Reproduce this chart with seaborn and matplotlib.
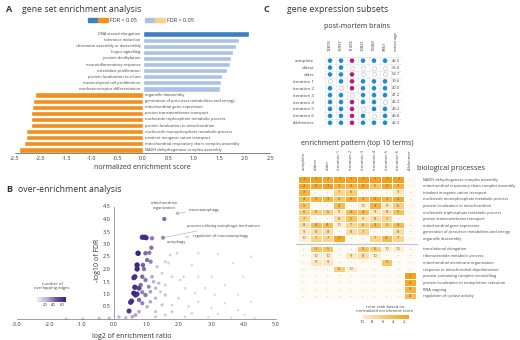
import matplotlib
matplotlib.use('Agg')
import matplotlib.pyplot as plt
import seaborn as sns
import numpy as np
import pandas as pd
from matplotlib.patches import Patch
from matplotlib.legend_handler import HandlerTuple
from matplotlib.lines import Line2D
from matplotlib.cm import ScalarMappable
from matplotlib.colors import Normalize

sns.set_style('white')
plt.rcParams['font.family'] = ['Open Sans', 'DejaVu Sans']
plt.rcParams['text.color'] = '#333333'
plt.rcParams['axes.labelcolor'] = '#333333'
plt.rcParams['xtick.color'] = '#333333'
plt.rcParams['ytick.color'] = '#333333'

# ---- A: gene set enrichment ----
terms_up = ['DNA strand elongation', 'tolerance induction', 'chromatin assembly or diassembly',
            'hippo signalling', 'protein dealkylation', 'neuroinflammatory response',
            'osteoblast proliferation', 'protein localization to cilium',
            'mesenchymal cell proliferation', 'mechanoreceptor differentiation']
nes_up = [2.08, 1.88, 1.83, 1.77, 1.72, 1.70, 1.65, 1.55, 1.54, 1.51]
sig_up = [True, False, False, False, False, False, False, False, False, False]
terms_down = ['organelle diassembly', 'generation of precursor metabolites and energy',
              'mitochondrial gene expression', 'proton transmembrane transport',
              'nucleoside triphosphate metabolic process', 'protein localization to mitochondrion',
              'nucleoside monophosphate metabolic process', 'trivalent inorganic cation transport',
              'mitochondrial respiratory chain complex assembly', 'NADH dehydrogenase complex assembly']
nes_down = [-2.10, -2.15, -2.17, -2.18, -2.18, -2.18, -2.28, -2.28, -2.33, -2.42]
sig_down = [True] * 10

# ---- B: over-enrichment scatter (log2 ratio, -log10 FDR, overlapping edges) ----
ora_x = [0.87, 0.94, 0.99, 0.74, 0.71, 0.71, 0.64, 0.61, 0.64, 0.61, 0.66, 0.54, 0.51, 0.46, 0.77, 0.71,
         0.97, 1.09, 1.02, 0.89, 0.92, 1.17, 1.15, 1.13, 0.87, 0.97, 0.82, 0.87, 0.77, 0.97, 1.07, 0.87,
         1.17, 1.22, 1.12, 1.28, 1.38, 1.12, 1.28, 1.48, 1.58, 1.02, 0.77, 0.66, 1.28, 0.56, 0.36, -0.15,
         -0.46, -0.97, -1.48, 0.15,
         1.73, 1.94, 1.58, 1.68, 1.79, 2.04, 2.14, 2.40, 2.60, 3.21, 3.67, 4.23, 3.98, 3.01, 2.60, 3.42,
         2.81, 2.19, 2.50, 3.11, 3.83, 1.99, 2.60, 3.42, 4.23, 1.79, 2.30, 3.01, 3.83, 1.79, 2.40, 3.21,
         4.03, 1.58, 2.19, 2.91, 3.62, 4.34, 1.28, 1.43, 1.58, 1.48, 1.33,
         1.55, 1.96, 1.51, 2.26]
ora_y = [3.27, 3.27, 3.25, 2.63, 2.16, 2.00, 1.69, 1.65, 1.27, 1.03, 0.96, 0.72, 0.67, 0.32, 1.23, 1.00,
         2.63, 2.65, 2.36, 2.16, 2.00, 3.23, 2.85, 2.29, 1.69, 1.56, 1.36, 1.07, 0.76, 0.96, 1.29, 0.63,
         1.69, 1.49, 1.09, 1.23, 1.43, 0.69, 0.83, 0.56, 0.96, 0.49, 0.29, 0.16, 0.29, 0.09, 0.05, 0.03,
         0.03, 0.01, 0.01, 0.08,
         2.56, 2.63, 2.29, 2.23, 1.69, 1.56, 1.69, 2.16, 2.63, 2.59, 2.23, 2.49, 1.69, 1.69, 1.69, 1.36,
         1.23, 1.23, 1.03, 0.96, 0.96, 0.83, 0.69, 0.63, 0.69, 0.56, 0.49, 0.43, 0.36, 0.29, 0.23, 0.19,
         0.16, 0.16, 0.09, 0.07, 0.05, 0.04, 0.09, 1.09, 1.36, 1.83, 2.09,
         4.00, 4.23, 3.25, 3.28]
ora_edges = [62, 65, 60, 68, 66, 64, 62, 60, 64, 66, 62, 60, 62, 58, 55, 58,
             42, 38, 40, 44, 40, 38, 40, 36, 42, 38, 40, 36, 42, 38, 34, 36,
             26, 24, 28, 22, 20, 26, 22, 18, 18, 24, 26, 28, 18, 26, 22, 20,
             18, 16, 14, 22,
             12, 12, 14, 12, 12, 10, 10, 9, 9, 8, 8, 7, 7, 8, 9, 8,
             9, 10, 9, 8, 7, 12, 9, 8, 7, 12, 10, 8, 7, 14, 10, 8,
             7, 14, 10, 8, 7, 6, 16, 16, 14, 14, 18,
             40, 22, 34, 12]

# ---- C: dot matrix ----
brains = ['12876', '15997', '11496', '10821', '14380', '9861']
brain_group = ['control', 'control', 'AD', 'control', 'control', 'control']
subsets = ['complete', 'oldest', 'older', 'iteration 1', 'iteration 2', 'iteration 3',
           'iteration 4', 'iteration 5', 'iteration 6', 'Alzheimer']
included = [[1, 1, 1, 1, 1, 1],
            [1, 1, 0, 0, 0, 0],
            [1, 1, 1, 0, 0, 0],
            [0, 1, 1, 1, 1, 1],
            [1, 0, 1, 1, 1, 1],
            [1, 1, 0, 1, 1, 1],
            [1, 1, 1, 1, 1, 0],
            [1, 1, 1, 0, 1, 1],
            [1, 1, 1, 1, 0, 1],
            [1, 1, 1, 1, 1, 1]]
mean_age = [42.5, 56.0, 53.7, 39.6, 40.0, 41.2, 46.2, 43.2, 44.8, 42.5]

# ---- C: enrichment pattern ----
N = np.nan
top_terms = ['NADH dehydrogenase complex assembly', 'mitochondrial respiratory chain complex assembly',
             'trivalent inorganic cation transport', 'nucleoside monophosphate metabolic process',
             'protein localization to mitochondrion', 'nucleoside triphosphate metabolic process',
             'proton transmembrane transport', 'mitochondrial gene expression',
             'generation of precursor metabolites and energy', 'organelle diassembly']
top_ranks = [[1, 1, 2, 1, 1, 1, 1, 1, 1, N],
             [2, 2, 1, 3, 3, 2, 5, 2, 3, N],
             [3, N, N, 7, 6, N, N, N, 9, N],
             [4, 3, 3, 5, 2, 3, 2, 3, 2, N],
             [5, N, N, 4, N, 10, 3, 9, 6, N],
             [6, 6, 6, 9, 4, 4, 9, 8, 5, N],
             [7, N, N, 8, 5, 9, 8, 7, N, N],
             [8, 4, 4, 10, 7, 6, 4, 6, 4, N],
             [9, 8, 8, N, 8, 7, N, N, 8, N],
             [10, 7, 7, 2, N, N, 7, 4, 7, N]]
other_terms = ['translational elongation', 'ribonucleotide metabolic process',
               'mitochondrial membrane organization', 'response to mitochondrial depolarisation',
               'protein-containing complex remodelling', 'protein localization to endoplasmic reticulum',
               'RNA capping', 'regulation of cyclase activity']
other_ranks = [[N, 5, 5, N, N, 5, 6, 10, 10, N],
               [N, 10, 10, N, 9, 8, 10, N, N, N],
               [N, 9, 9, N, N, N, N, 5, N, N],
               [N, N, N, 6, 10, N, N, N, N, N],
               [N, N, N, N, N, N, N, N, N, 1],
               [N, N, N, N, N, N, N, N, N, 2],
               [N, N, N, N, N, N, N, N, N, 3],
               [N, N, N, N, N, N, N, N, N, 4]]

W, H = 520, 340
fig = plt.figure(figsize=(5.2, 3.4), dpi=100)


def px_axes(l, t, r, b):
    return fig.add_axes([l / W, 1 - b / H, (r - l) / W, (b - t) / H])


blue_dark, blue_light = '#3d7fc1', '#abc2e4'
orange_dark, orange_light = '#f18f1f', '#fbd08c'

# ===== Panel A =====
fig.text(6 / W, 1 - 10 / H, 'A', fontsize=6.5, fontweight='bold', va='center')
fig.text(22 / W, 1 - 10 / H, 'gene set enrichment analysis', fontsize=6.3, va='center')

axA = px_axes(15, 31, 270.5, 153)
dfA = pd.DataFrame({'term': terms_up + terms_down, 'nes': nes_up + nes_down})
colA = [blue_dark if s else blue_light for s in sig_up] + \
       [orange_dark if s else orange_light for s in sig_down]
sns.barplot(data=dfA, x='nes', y='term', hue='term', palette=colA, legend=False,
            width=0.84, saturation=1, orient='h', ax=axA)
axA.set_xlim(-2.5, 2.5)
axA.set_ylim(19.5, -0.5)
axA.set_xticks(np.arange(-2.5, 2.51, 0.5))
axA.set_xticklabels([f'{v:.1f}' for v in np.arange(-2.5, 2.51, 0.5)])
axA.set_yticks([])
axA.set_ylabel('')
axA.set_xlabel('normalized enrichment score', fontsize=5, labelpad=2)
axA.tick_params(axis='x', labelsize=4, length=1.5, width=0.5, pad=1)
for s in ['left', 'top', 'right']:
    axA.spines[s].set_visible(False)
axA.spines['bottom'].set_color('#555555')
axA.spines['bottom'].set_linewidth(0.5)
for i, t in enumerate(terms_up):
    axA.text(-0.04, i, t, ha='right', va='center', fontsize=2.9, color='#444444')
for i, t in enumerate(terms_down):
    axA.text(0.04, i + 10, t, ha='left', va='center', fontsize=2.9, color='#444444')

h1 = (Patch(color=blue_dark), Patch(color=orange_dark))
h2 = (Patch(color=blue_light), Patch(color=orange_light))
fig.legend([h1, h2], ['FDR < 0.05', 'FDR > 0.05'],
           handler_map={tuple: HandlerTuple(ndivide=None, pad=0)},
           loc='center', bbox_to_anchor=(141 / W, 1 - 20.5 / H), ncol=2, frameon=False,
           fontsize=4, handlelength=3.6, handleheight=0.8, columnspacing=1.4, handletextpad=0.4)

# ===== Panel B =====
fig.text(6 / W, 1 - 190 / H, 'B', fontsize=6.5, fontweight='bold', va='center')
fig.text(18 / W, 1 - 190 / H, 'over-enrichment analysis', fontsize=6.3, va='center')

axB = px_axes(17, 205, 276, 319)
purp = sns.blend_palette(['#ecebf5', '#b9b3d8', '#6a55a3', '#3a1c78'], as_cmap=True)
dfB = pd.DataFrame({'ratio': ora_x, 'fdr': ora_y, 'edges': ora_edges}).sort_values('edges')
sns.scatterplot(data=dfB, x='ratio', y='fdr', hue='edges', size='edges', palette=purp,
                hue_norm=(0, 70), sizes=(1.5, 16), size_norm=(0, 70), edgecolor='none',
                legend=False, ax=axB, clip_on=False)
axB.set_xlim(-3, 5)
axB.set_ylim(0, 4.56)
axB.spines['left'].set_position(('data', 0))
axB.spines['left'].set_bounds(0, 4.5)
for s in ['top', 'right']:
    axB.spines[s].set_visible(False)
for s in ['left', 'bottom']:
    axB.spines[s].set_color('#777777')
    axB.spines[s].set_linewidth(0.5)
axB.set_xticks(np.arange(-3, 5.01, 1))
axB.set_xticklabels([f'{v:.1f}' for v in np.arange(-3, 5.01, 1)])
axB.set_yticks(np.arange(0.5, 4.51, 0.5))
axB.set_yticklabels([f'{v:.1f}' for v in np.arange(0.5, 4.51, 0.5)])
axB.tick_params(labelsize=4, length=1.5, width=0.5, pad=1)
axB.set_xlabel('')
axB.set_ylabel('')
axB.text(-0.5, 2.35, '-log10 of FDR', rotation=90, ha='center', va='center', fontsize=5)
axB.text(0.55, -0.7, 'log2 of enrichment ratio', ha='center', va='center', fontsize=5,
         clip_on=False)

ann_kw = dict(fontsize=2.8, color='#444444', va='center')
line_kw = dict(arrowstyle='-', color='#aaaaaa', lw=0.4, shrinkA=0, shrinkB=1)
axB.text(1.55, 4.55, 'mitochondrion\norganization', ha='center', linespacing=1.3, **ann_kw)
axB.annotate('macroautophagy', xy=(1.96, 4.23), xytext=(2.3, 4.35), ha='left',
             arrowprops=line_kw, **ann_kw)
axB.annotate('process utilizing autophagic mechanism', xy=(1.51, 3.25), xytext=(2.25, 3.73),
             ha='left', arrowprops=line_kw, **ann_kw)
axB.text(1.62, 3.08, 'autophagy', ha='left', **ann_kw)
axB.text(2.45, 3.32, 'regulation of macroautophagy', ha='left', **ann_kw)

caxB = px_axes(37, 297, 66, 302)
cb = fig.colorbar(ScalarMappable(norm=Normalize(0, 70), cmap=purp), cax=caxB,
                  orientation='horizontal')
cb.set_ticks([20, 40, 60])
cb.outline.set_visible(False)
caxB.tick_params(labelsize=3, length=0, pad=1)
fig.text(52 / W, 1 - 286 / H, 'number of\noverlapping edges', ha='center', va='center',
         fontsize=3, linespacing=1.3, color='#444444')

# ===== Panel C: dot matrix =====
fig.text(263 / W, 1 - 9 / H, 'C', fontsize=6.5, fontweight='bold', va='center')
fig.text(287 / W, 1 - 10 / H, 'gene expression subsets', fontsize=6.3, va='center')
fig.text(357 / W, 1 - 27 / H, 'post-mortem brains', fontsize=5, ha='center', va='center')

axD = px_axes(324.5, 57.2, 401.5, 126.2)
rowsD = []
for i, sname in enumerate(subsets):
    for j, b in enumerate(brains):
        rowsD.append({'row': i, 'col': j, 'grp': brain_group[j], 'inc': included[i][j]})
dfD = pd.DataFrame(rowsD)
sns.scatterplot(data=dfD[dfD.inc == 1], x='col', y='row', hue='grp',
                palette={'control': '#1e8dcc', 'AD': '#c4177b'}, s=11, edgecolor='none',
                legend=False, ax=axD)
sns.scatterplot(data=dfD[dfD.inc == 0], x='col', y='row', s=10, color='white',
                edgecolor='#c0c0c0', linewidth=0.4, legend=False, ax=axD)
for i, a in enumerate(mean_age):
    axD.text(6, i, f'{a:.1f}', ha='center', va='center', fontsize=3, color='#444444')
axD.set_xlim(-0.5, 6.5)
axD.set_ylim(9.5, -0.5)
axD.set_xticks(range(7))
axD.set_xticklabels(brains + ['mean age'], rotation=90)
axD.set_yticks(range(10))
axD.set_yticklabels(subsets)
axD.set_xticks(np.arange(-0.5, 7, 1), minor=True)
axD.set_yticks(np.arange(-0.5, 10, 1), minor=True)
axD.grid(which='minor', color='#e2e2e2', lw=0.4)
axD.grid(which='major', visible=False)
axD.tick_params(axis='x', which='both', bottom=False, top=False, labelbottom=False,
                labeltop=True, labelsize=3, pad=1)
axD.tick_params(axis='y', which='both', left=False, labelsize=3.2, pad=4, labelcolor='#444444')
axD.set_xlabel('')
axD.set_ylabel('')
for s in axD.spines.values():
    s.set_visible(False)

# ===== Panel C: enrichment heatmap =====
heat_cols = subsets
fig.text(357 / W, 1 - 143 / H, 'enrichment pattern (top 10 terms)', fontsize=5,
         ha='center', va='center')
fig.text(417 / W, 1 - 169 / H, 'biological processes', fontsize=5.2, ha='left', va='center')

rank_cmap = sns.blend_palette(['#f4a219', '#f8c86a', '#fdeed0'], as_cmap=True)
rank_cmap = rank_cmap.with_extremes(over='#fffaf1')


def rank_heat(ax, ranks, terms, top):
    arr = np.array(ranks, dtype=float)
    labels = np.where(np.isnan(arr), '-', np.nan_to_num(arr).astype(int).astype(str))
    dfh = pd.DataFrame(np.where(np.isnan(arr), 11, arr), index=terms, columns=heat_cols)
    sns.heatmap(dfh, ax=ax, cmap=rank_cmap, vmin=1, vmax=10, cbar=False, annot=labels, fmt='',
                annot_kws={'fontsize': 2.9, 'color': '#6a5532'},
                linewidths=0.5, linecolor='white', xticklabels=True, yticklabels=True)
    ax.tick_params(axis='y', left=False, right=False, labelleft=False, labelright=True,
                   labelsize=2.75, pad=1.2, labelrotation=0, labelcolor='#444444')
    ax.tick_params(axis='x', bottom=False, top=False, labelbottom=False, labeltop=top,
                   labelsize=3, pad=1, labelrotation=90, labelcolor='#444444')
    ax.set_xlabel('')
    ax.set_ylabel('')


axH1 = px_axes(298, 176, 416, 241.6)
rank_heat(axH1, top_ranks, top_terms, True)
axH2 = px_axes(298, 245.6, 416, 299.3)
rank_heat(axH2, other_ranks, other_terms, False)
fig.add_artist(Line2D([296 / W, 417 / W], [1 - 243.6 / H] * 2, color='#c8c8c8', lw=1.0))

caxC = px_axes(362, 315, 409, 319)
cbC = fig.colorbar(ScalarMappable(norm=Normalize(1, 10), cmap=rank_cmap), cax=caxC,
                   orientation='horizontal')
cbC.set_ticks([10, 8, 6, 4, 2])
cbC.outline.set_visible(False)
caxC.invert_xaxis()
caxC.tick_params(labelsize=3, length=0, pad=1)
fig.text(385 / W, 1 - 309 / H, 'term rank based on\nnormalized enrichment score', ha='center',
         va='center', fontsize=3, linespacing=1.3, color='#444444')

fig.savefig('out.png', dpi=100)
